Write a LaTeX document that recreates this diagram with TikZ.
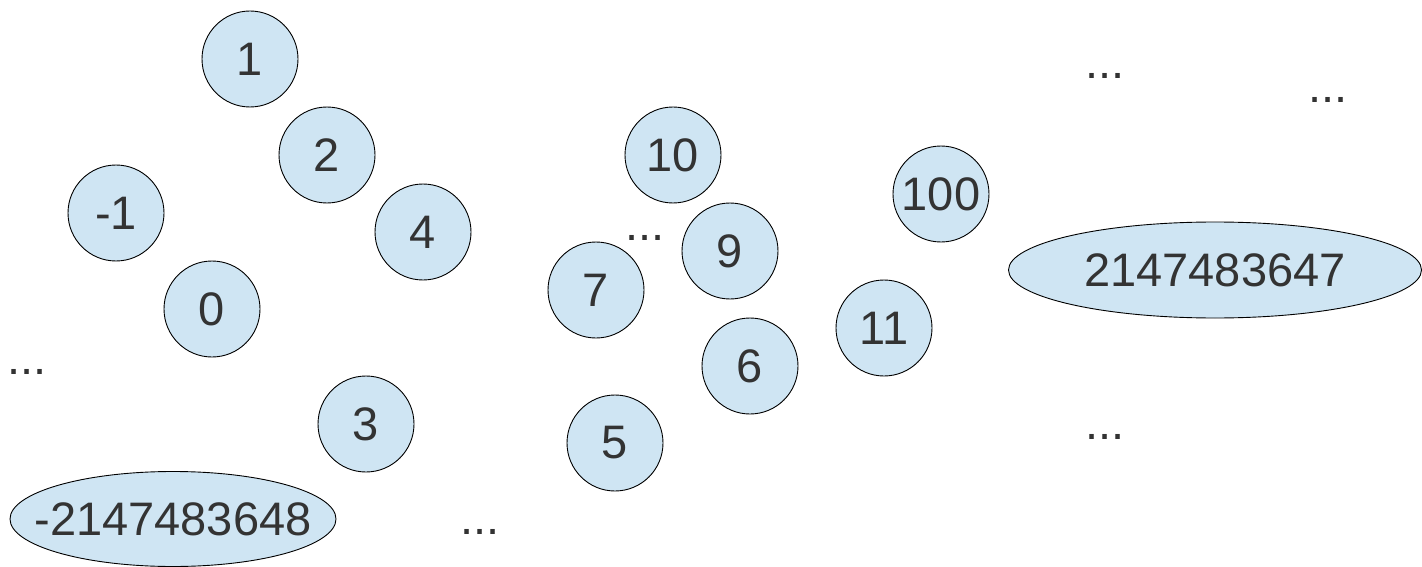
\documentclass[tikz,border=0pt]{standalone}
\usepackage{fontspec}
\setmainfont{Liberation Sans}
\usetikzlibrary{shapes.geometric}
\definecolor{nodefill}{HTML}{CFE5F3}
\definecolor{txt}{HTML}{333333}
\tikzset{
  num/.style={circle, draw=black, line width=0.9pt, fill=nodefill, minimum size=96pt, inner sep=0pt, text=txt, font=\fontsize{47}{50}\selectfont},
  big/.style={ellipse, draw=black, line width=0.9pt, fill=nodefill, inner sep=0pt, text=txt, font=\fontsize{47}{50}\selectfont},
  dots/.style={inner sep=0pt, text=txt, font=\fontsize{47}{50}\selectfont}
}
\begin{document}
\begin{tikzpicture}[x=1pt,y=-1pt]
\useasboundingbox (0,0) rectangle (1422,567);
\node[num] (n1) at (250,59) {1};
\node[num] (n2) at (327,155) {2};
\node[num] (nm1) at (116,213) {-1};
\node[num] (n0) at (212,309) {0};
\node[num] (n4) at (423,232) {4};
\node[num] (n3) at (366,424) {3};
\node[num] (n10) at (673,155) {10};
\node[num] (n9) at (730,251) {9};
\node[num] (n7) at (596,290) {7};
\node[num] (n6) at (750,366) {6};
\node[num] (n5) at (615,443) {5};
\node[num] (n100) at (941,194) {100};
\node[num] (n11) at (884,328) {11};
\node[big, minimum width=413pt, minimum height=96pt] (nmax) at (1215,270) {\makebox[0pt]{2147483647}};
\node[big, minimum width=326pt, minimum height=95pt] (nmin) at (173,519) {\makebox[0pt]{-2147483648}};
\node[dots] (d1) at (27,372) {...};
\node[dots] (d2) at (1105,76) {...};
\node[dots] (d3) at (1328,100) {...};
\node[dots] (d4) at (645,238) {...};
\node[dots] (d5) at (1105,437) {...};
\node[dots] (d6) at (480,532) {...};
\end{tikzpicture}
\end{document}
